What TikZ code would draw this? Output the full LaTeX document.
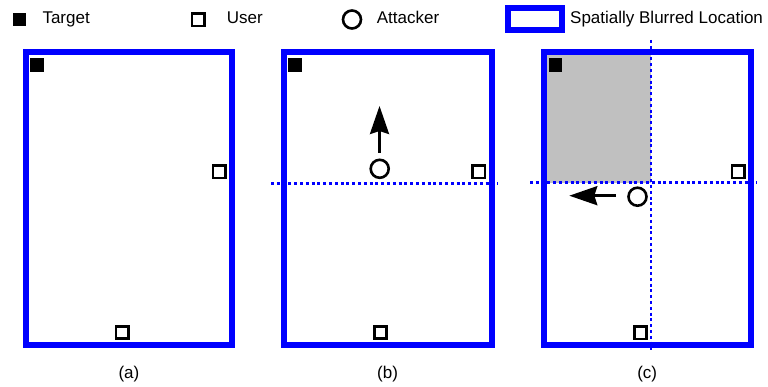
\documentclass[tikz,border=0pt]{standalone}
\usepackage{fontspec}
\setmainfont{Liberation Sans}
\usetikzlibrary{arrows.meta}
\definecolor{blurblue}{RGB}{0,0,255}
\definecolor{regiongray}{RGB}{192,192,192}
\begin{document}
\begin{tikzpicture}[x=1pt,y=-1pt,
  font=\fontsize{17}{20}\selectfont,
  blurbox/.style={draw=blurblue,line width=6pt},
  splitline/.style={draw=blurblue,line width=2.6pt,dash pattern=on 3pt off 2.8pt},
  target/.style={rectangle,fill=black,draw=black,line width=0.6pt,minimum size=12.4pt,inner sep=0pt,outer sep=0pt},
  user/.style={rectangle,draw=black,fill=white,line width=2.6pt,minimum size=12.4pt,inner sep=0pt,outer sep=0pt},
  attacker/.style={circle,draw=black,fill=white,line width=2.6pt,minimum size=18pt,inner sep=0pt,outer sep=0pt},
  legendtext/.style={anchor=base west,inner sep=0pt},
  caption/.style={anchor=base,inner sep=0pt},
  move/.style={line width=2.8pt,-{Stealth[length=28pt,width=19pt,inset=3pt]}}]
\useasboundingbox (0,0) rectangle (768,387);

% legend
\node[target] (lt) at (19,19.5) {};
\node[legendtext] (ltt) at (42.3,24) {Target};
\node[user] (lu) at (198,19.7) {};
\node[legendtext] (lut) at (226.7,24) {User};
\node[attacker] (la) at (352,19.5) {};
\node[legendtext] (lat) at (376.7,24) {Attacker};
\draw[blurbox] (508,7.8) rectangle (562,29.7);
\node[legendtext] (lbt) at (570,24) {Spatially Blurred Location};

% panel (a)
\draw[blurbox] (25.7,52.2) rectangle (232,345);
\node[target] (ta) at (36.7,65) {};
\node[user] (ua1) at (219.3,171.8) {};
\node[user] (ua2) at (122,332.5) {};
\node[caption] (capa) at (128.9,378.5) {(a)};

% panel (b)
\draw[splitline] (271,183.3) -- (498.3,183.3);
\draw[blurbox] (283.7,52.2) rectangle (491.5,345);
\node[target] (tb) at (294.8,64.8) {};
\node[user] (ub1) at (478.7,171.7) {};
\node[user] (ub2) at (380.5,332.5) {};
\node[attacker] (ab) at (379.7,168.8) {};
\coordinate (mb0) at (379.5,152.7);
\coordinate (mb1) at (379.5,106);
\draw[move] (mb0) -- (mb1);
\node[caption] (capb) at (387.6,378.5) {(b)};

% panel (c)
\fill[regiongray] (543.8,52) rectangle (651,182.7);
\draw[splitline] (530,182.7) -- (757.3,182.7);
\draw[splitline] (651,40) -- (651,351);
\draw[blurbox] (543.8,52) rectangle (750.7,345);
\node[target] (tc) at (555.3,65) {};
\node[user] (uc1) at (738.2,171.8) {};
\node[user] (uc2) at (640.5,332.7) {};
\node[attacker] (ac) at (637.5,196.7) {};
\coordinate (mc0) at (616,195.7);
\coordinate (mc1) at (569.3,195.7);
\draw[move] (mc0) -- (mc1);
\node[caption] (capc) at (647.2,378.5) {(c)};
\end{tikzpicture}
\end{document}
